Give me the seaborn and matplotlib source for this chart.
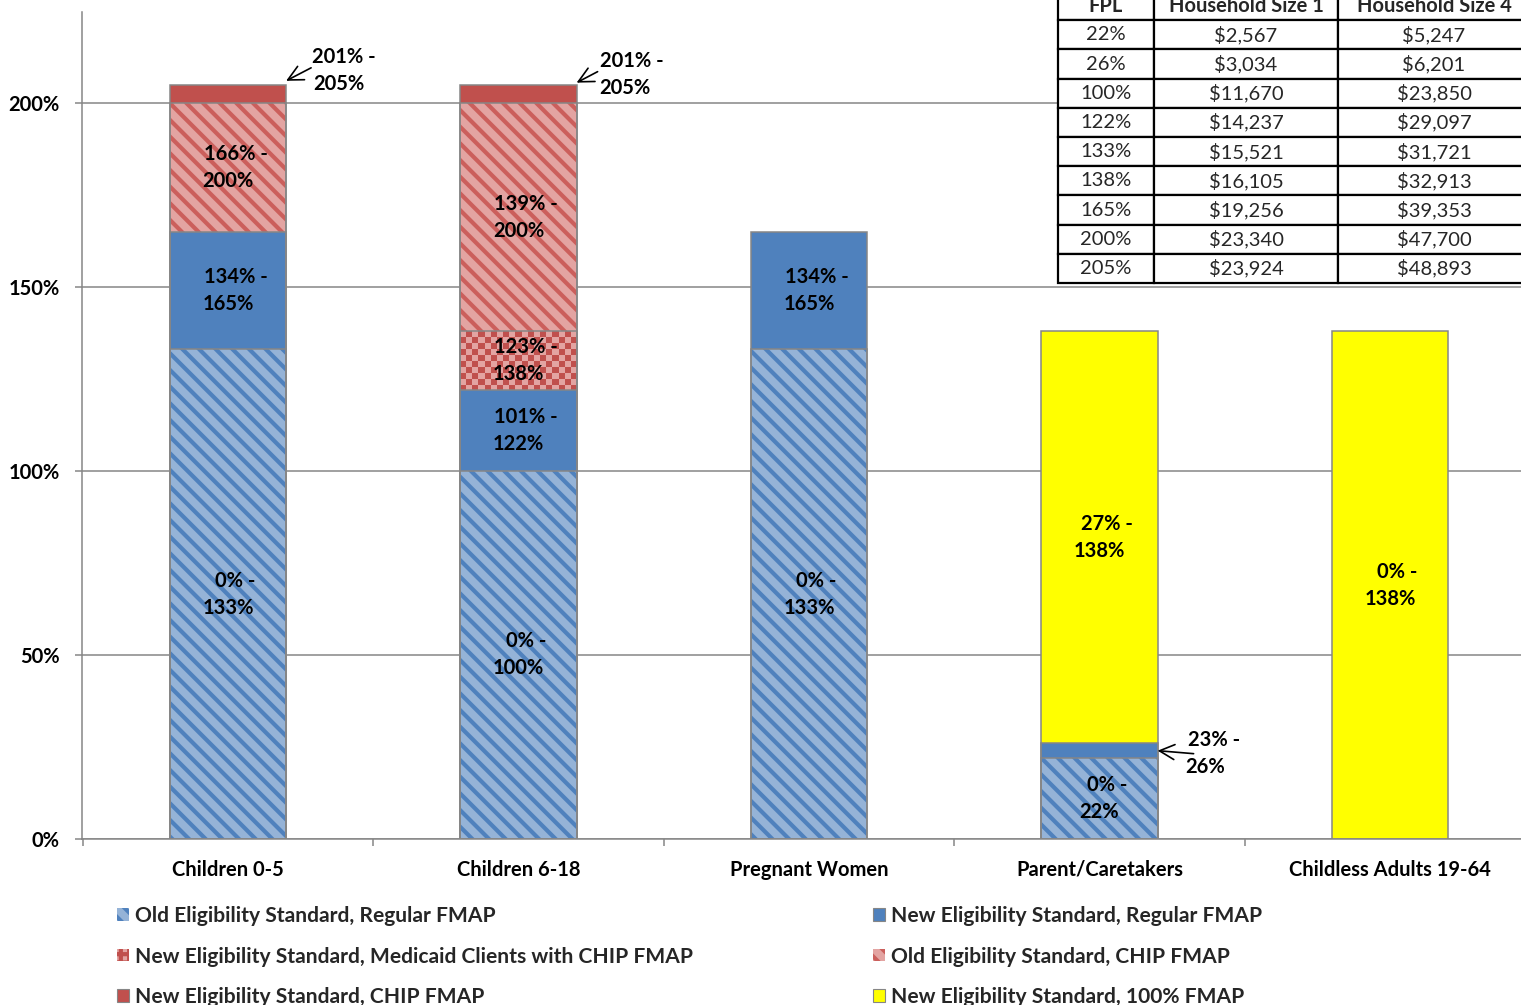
import numpy as np
import pandas as pd
import matplotlib
matplotlib.use("Agg")
import matplotlib.pyplot as plt
from matplotlib.patches import Patch
from matplotlib.colors import ListedColormap
import seaborn as sns

# ---------------- data ----------------
groups = ["Children 0-5", "Children 6-18", "Pregnant Women",
          "Parent/Caretakers", "Childless Adults 19-64"]

# upper bound (% FPL) of each eligibility segment per group; NaN = not present
old_regular_top = [133, 100, 133, 22, np.nan]
new_regular_top = [165, 122, 165, 26, np.nan]
new_medicaid_chip_top = [np.nan, 138, np.nan, np.nan, np.nan]
old_chip_top = [200, 200, np.nan, np.nan, np.nan]
new_chip_top = [205, 205, np.nan, np.nan, np.nan]
full_fmap_top = [np.nan, np.nan, np.nan, 138, 138]

series_names = [
    "Old Eligibility Standard, Regular FMAP",
    "New Eligibility Standard, Regular FMAP",
    "New Eligibility Standard, Medicaid Clients with CHIP FMAP",
    "Old Eligibility Standard, CHIP FMAP",
    "New Eligibility Standard, CHIP FMAP",
    "New Eligibility Standard, 100% FMAP",
]
series_tops = [old_regular_top, new_regular_top, new_medicaid_chip_top,
               old_chip_top, new_chip_top, full_fmap_top]

y_ticks = [0, 50, 100, 150, 200]

fpl_levels = ["22%", "26%", "100%", "122%", "133%", "138%", "165%", "200%", "205%"]
household_1 = ["$2,567", "$3,034", "$11,670", "$14,237", "$15,521",
               "$16,105", "$19,256", "$23,340", "$23,924"]
household_4 = ["$5,247", "$6,201", "$23,850", "$29,097", "$31,721",
               "$32,913", "$39,353", "$47,700", "$48,893"]
table_header = ["FPL", "Household Size 1", "Household Size 4"]

# ---------------- styles ----------------
BLUE = "#4F81BD"
LIGHT_BLUE = "#95B3D7"
RED = "#C0504D"
PINK = "#E3A4A2"
YELLOW = "#FFFF00"
EDGE = "#868686"

styles = {
    series_names[0]: dict(face=LIGHT_BLUE, hatch="\\\\", stripe=BLUE),
    series_names[1]: dict(face=BLUE, hatch=None, stripe=BLUE),
    series_names[2]: dict(face=PINK, hatch=None, stripe=RED, checker=True),
    series_names[3]: dict(face=PINK, hatch="\\\\", stripe="#CB5F5C"),
    series_names[4]: dict(face=RED, hatch=None, stripe=RED),
    series_names[5]: dict(face=YELLOW, hatch=None, stripe=YELLOW),
}

FONT = ["Lato", "DejaVu Sans"]
sns.set_theme(style="white")
plt.rcParams["font.family"] = FONT
plt.rcParams["hatch.linewidth"] = 3.0

# long-form table of segments
rows = []
for gi, g in enumerate(groups):
    prev = None
    for name, tops in zip(series_names, series_tops):
        top = tops[gi]
        if np.isnan(top):
            continue
        rows.append(dict(group=g, gi=gi, series=name, top=top,
                         bottom=0 if prev is None else prev))
        prev = top
df = pd.DataFrame(rows)

W, H = 1521, 1005
fig = plt.figure(figsize=(W / 100, H / 100), dpi=100)
ax = fig.add_axes([82 / W, (H - 839) / H, (W - 82) / W, (839 - 12) / H])

XLIM = (-0.5026, 4.451)
YLIM = (0, 224.7)
BAR_W = 0.4


def set_limits():
    ax.set_xlim(*XLIM)
    ax.set_ylim(*YLIM)


# fills: draw cumulative bars from the top of the stack down
for name in reversed(series_names):
    st = styles[name]
    d = df[df.series == name]
    before = len(ax.patches)
    sns.barplot(data=d, x="group", y="top", order=groups, width=BAR_W,
                color=st["face"], saturation=1, hatch=st["hatch"],
                edgecolor=st["stripe"], linewidth=0, errorbar=None, ax=ax)
    set_limits()
    if st.get("checker"):
        cmap = ListedColormap([st["face"], st["stripe"]])
        for p in ax.patches[before:]:
            bb = p.get_window_extent()
            nx = max(1, int(round(bb.width / 6)))
            ny = max(1, int(round(bb.height / 6)))
            board = np.add.outer(np.arange(ny), np.arange(nx)) % 2
            x0, y0 = p.get_x(), p.get_y()
            ax.imshow(board, cmap=cmap, extent=(x0, x0 + p.get_width(), y0, y0 + p.get_height()),
                      origin="lower", aspect="auto", interpolation="nearest",
                      zorder=p.get_zorder(), clip_path=p)
        set_limits()

# outlines of every segment boundary
for name in series_names:
    d = df[df.series == name]
    sns.barplot(data=d, x="group", y="top", order=groups, width=BAR_W,
                fill=False, color=EDGE, linewidth=1.1, errorbar=None, ax=ax)
set_limits()

# ---------------- axes styling ----------------
ax.set_xlabel("")
ax.set_ylabel("")
ax.set_yticks(y_ticks)
ax.set_yticklabels([f"{v}%" for v in y_ticks])
ax.yaxis.grid(True, color=EDGE, linewidth=1.1)
ax.set_axisbelow(True)
ax.xaxis.grid(False)
for s in ["top", "right"]:
    ax.spines[s].set_visible(False)
for s in ["left", "bottom"]:
    ax.spines[s].set_color(EDGE)
    ax.spines[s].set_linewidth(1.1)
ax.set_xticks(range(len(groups)))
ax.set_xticklabels(groups)
ax.set_xticks(np.arange(-0.5, len(groups), 1.0), minor=True)
ax.tick_params(axis="x", which="major", length=0, pad=15, labelsize=14.5)
ax.tick_params(axis="x", which="minor", length=5, width=1.1, color=EDGE, direction="out")
ax.tick_params(axis="y", length=5, width=1.1, color=EDGE, direction="out", pad=11, labelsize=14.5)
ax.tick_params(left=True, bottom=False)
ax.tick_params(axis="x", which="minor", bottom=True)
for lab in ax.get_xticklabels() + ax.get_yticklabels():
    lab.set_fontweight("bold")
    lab.set_color("black")
# tick placement can widen the view, so pin the limits again
set_limits()

# ---------------- segment labels ----------------
LABEL_FS = 14.5
PX = 0.72  # points per pixel at 100 dpi

callouts = {
    ("Children 0-5", series_names[4]): dict(tail=(25, 13), l1=(58, 24), l2=(53, -3), tip_dy=1.0),
    ("Children 6-18", series_names[4]): dict(tail=(21, 11), l1=(55, 22), l2=(48, -5), tip_dy=0.5),
    ("Parent/Caretakers", series_names[1]): dict(tail=(36, -3), l1=(56, 11), l2=(48, -16), tip_dy=0.0),
}

for _, r in df.iterrows():
    lo = "0%" if r.bottom == 0 else f"{int(r.bottom) + 1}%"
    line1, line2 = f"{lo} -", f"{int(r.top)}%"
    key = (r.group, r.series)
    if key in callouts:
        c = callouts[key]
        if key[0] == "Parent/Caretakers":
            tip = (r.gi + BAR_W / 2, (r.bottom + r.top) / 2 + c["tip_dy"])
        else:
            tip = (r.gi + BAR_W / 2, r.top + c["tip_dy"])
        ax.annotate("", xy=tip, xytext=(c["tail"][0] * PX, c["tail"][1] * PX),
                    textcoords="offset points",
                    arrowprops=dict(arrowstyle="->,head_length=0.9,head_width=0.45",
                                    color="black", lw=1.2, shrinkA=0, shrinkB=0))
        ax.annotate(line1, xy=tip, xytext=(c["l1"][0] * PX, c["l1"][1] * PX),
                    textcoords="offset points", ha="center", va="center",
                    fontsize=LABEL_FS, fontweight="bold", color="black")
        ax.annotate(line2, xy=tip, xytext=(c["l2"][0] * PX, c["l2"][1] * PX),
                    textcoords="offset points", ha="center", va="center",
                    fontsize=LABEL_FS, fontweight="bold", color="black")
    else:
        mid = (r.bottom + r.top) / 2
        ax.annotate(line1, xy=(r.gi, mid), xytext=(7.5 * PX, 13.5 * PX),
                    textcoords="offset points", ha="center", va="center",
                    fontsize=LABEL_FS, fontweight="bold", color="black")
        ax.annotate(line2, xy=(r.gi, mid), xytext=(0, -13.5 * PX),
                    textcoords="offset points", ha="center", va="center",
                    fontsize=LABEL_FS, fontweight="bold", color="black")

# ---------------- legend ----------------
def handle(name):
    st = styles[name]
    if st.get("checker"):
        return Patch(facecolor=st["face"], edgecolor=st["stripe"], hatch="++", linewidth=0)
    return Patch(facecolor=st["face"], edgecolor=EDGE if st["hatch"] is None else st["stripe"],
                 hatch=st["hatch"], linewidth=0.8 if st["hatch"] is None else 0)

legend_order = [series_names[0], series_names[2], series_names[4],
                series_names[1], series_names[3], series_names[5]]
fig.legend([handle(n) for n in legend_order], legend_order, ncol=2,
           loc="upper left", bbox_to_anchor=(117 / W, 1 - 906 / H),
           frameon=False, borderpad=0, borderaxespad=0,
           handlelength=0.55, handleheight=0.55, handletextpad=0.3,
           labelspacing=0.98, columnspacing=8.6,
           prop=dict(family=FONT, weight="bold", size=15.1))

# ---------------- FPL income table ----------------
tax = fig.add_axes([1058 / W, (H - 283) / H, (1530 - 1058) / W, (283 + 9) / H])
tax.axis("off")
cell_text = [[f, a.replace("$", "\\$"), b.replace("$", "\\$")]
             for f, a, b in zip(fpl_levels, household_1, household_4)]
tbl = tax.table(cellText=cell_text, colLabels=table_header, cellLoc="center",
                bbox=[0, 0, 1, 1])
tbl.auto_set_font_size(False)
col_w = [96, 184, 192]
for (ri, ci), cell in tbl.get_celld().items():
    cell.set_width(col_w[ci])
    cell.set_edgecolor("black")
    cell.set_linewidth(1.6)
    cell.set_facecolor("white")
    txt = cell.get_text()
    txt.set_fontsize(14.5)
    txt.set_family(FONT)
    if ri == 0:
        txt.set_fontweight("bold")

fig.savefig("out.png", dpi=100)
